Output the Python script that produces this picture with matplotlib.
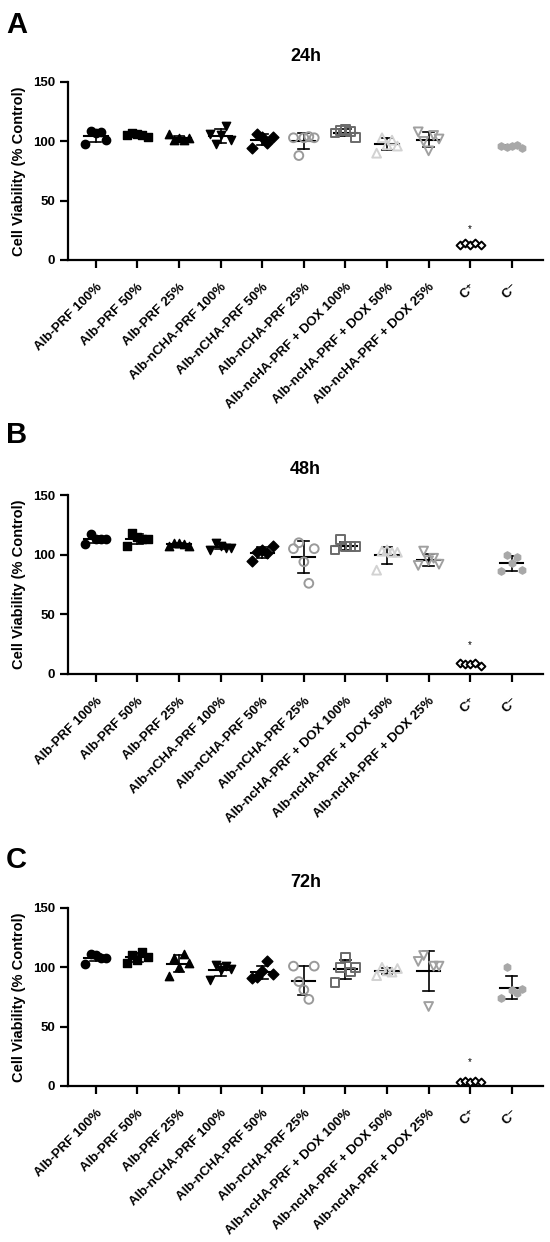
import numpy as np
import matplotlib
matplotlib.use("Agg")
import matplotlib.pyplot as plt

plt.rcParams['font.family'] = ['Liberation Sans', 'DejaVu Sans']
plt.rcParams['font.weight'] = 'bold'

# group labels
groups = ["Alb-PRF 100%", "Alb-PRF 50%", "Alb-PRF 25%",
          "Alb-nCHA-PRF 100%", "Alb-nCHA-PRF 50%", "Alb-nCHA-PRF 25%",
          "Alb-ncHA-PRF + DOX 100%", "Alb-ncHA-PRF + DOX 50%",
          "Alb-ncHA-PRF + DOX 25%", "C\u207a", "C\u207b"]

# cell viability (% control), 5 replicates per group
viab_24h = [
    [98, 109, 107, 108, 101],
    [105, 107, 106, 105, 104],
    [106, 101, 103, 101, 103],
    [106, 98, 105, 113, 101],
    [94, 106, 104, 99, 104],
    [103, 88, 103, 104, 103],
    [107, 109, 110, 108, 103],
    [90, 103, 97, 101, 96],
    [108, 100, 92, 105, 102],
    [13, 14, 13, 14, 13],
    [96, 95, 96, 97, 94],
]
viab_48h = [
    [109, 117, 113, 113, 113],
    [107, 118, 115, 113, 113],
    [107, 110, 110, 109, 107],
    [104, 110, 107, 106, 106],
    [95, 102, 104, 101, 107],
    [105, 110, 94, 76, 105],
    [104, 113, 107, 107, 107],
    [87, 103, 104, 102, 102],
    [91, 103, 95, 97, 92],
    [9, 8, 8, 9, 7],
    [86, 100, 93, 98, 87],
]
viab_72h = [
    [103, 111, 110, 108, 108],
    [104, 110, 106, 113, 109],
    [93, 108, 100, 111, 104],
    [89, 102, 98, 101, 99],
    [91, 92, 97, 105, 94],
    [101, 88, 81, 73, 101],
    [87, 100, 108, 96, 100],
    [93, 100, 97, 96, 99],
    [105, 110, 67, 101, 101],
    [3, 4, 3, 4, 3],
    [74, 100, 81, 78, 82],
]
titles = ["24h", "48h", "72h"]
letters = ["A", "B", "C"]
star_y = [26, 24, 20]

# marker style per group
markers = ['o', 's', '^', 'v', 'D', 'o', 's', '^', 'v', 'D', 'h']
colors = ['black', 'black', 'black', 'black', 'black',
          '#9a9a9a', '#6a6a6a', '#d2d2d2', '#a0a0a0', 'black', '#a8a8a8']
filled = [True, True, True, True, True, False, False, False, False, False, True]
sizes = [36, 36, 36, 36, 30, 40, 40, 40, 40, 16, 28]

offsets = np.array([-0.25, -0.12, 0.0, 0.12, 0.25])

fig = plt.figure(figsize=(5.5, 12.42), dpi=100)
H = 1242.0
W = 550.0
# axis positions in pixels (top of axes, bottom of axes)
ax_rows = [(82, 260), (495, 674), (908, 1086)]
letter_base = [33, 443, 868]

for p, data in enumerate([viab_24h, viab_48h, viab_72h]):
    top, bot = ax_rows[p]
    ax = fig.add_axes([68 / W, 1 - bot / H, 475 / W, (bot - top) / H])
    for i, vals in enumerate(data):
        vals = np.array(vals, dtype=float)
        m = vals.mean()
        sd = vals.std(ddof=1)
        # mean line + SD error bars
        ax.plot([i - 0.28, i + 0.28], [m, m], color='black', lw=1.5, zorder=2)
        ax.plot([i, i], [m - sd, m + sd], color='black', lw=1.2, zorder=2)
        ax.plot([i - 0.13, i + 0.13], [m + sd, m + sd], color='black', lw=1.2, zorder=2)
        ax.plot([i - 0.13, i + 0.13], [m - sd, m - sd], color='black', lw=1.2, zorder=2)
        if filled[i]:
            ax.scatter(i + offsets, vals, marker=markers[i], s=sizes[i],
                       color=colors[i], edgecolors=colors[i], zorder=3)
        else:
            ax.scatter(i + offsets, vals, marker=markers[i], s=sizes[i],
                       facecolors='white' if i == 9 else 'none',
                       edgecolors=colors[i], linewidths=1.4, zorder=3)
    ax.text(9, star_y[p], '*', ha='center', va='center', fontsize=7,
            fontweight='normal')

    ax.set_xlim(-0.67, 10.75)
    ax.set_ylim(0, 150)
    ax.set_yticks([0, 50, 100, 150])
    ax.set_xticks(range(len(groups)))
    ax.set_xticklabels(groups, rotation=45, ha='right', rotation_mode='anchor',
                       fontsize=9.5, fontweight='bold')
    ax.tick_params(axis='y', labelsize=9.5, width=1.6, length=6)
    ax.tick_params(axis='x', width=1.6, length=6, pad=9)
    for lab in ax.get_yticklabels():
        lab.set_fontweight('bold')
    ax.spines['top'].set_visible(False)
    ax.spines['right'].set_visible(False)
    ax.spines['left'].set_linewidth(1.6)
    ax.spines['bottom'].set_linewidth(1.6)
    ax.set_ylabel("Cell Viability (% Control)", fontsize=10.5, fontweight='bold',
                  labelpad=5)
    ax.set_title(titles[p], fontsize=13, fontweight='bold', pad=15)

    fig.text(6 / W, 1 - letter_base[p] / H, letters[p], fontsize=21,
             fontweight='bold', va='baseline', ha='left')

fig.savefig("out.png", dpi=100)
